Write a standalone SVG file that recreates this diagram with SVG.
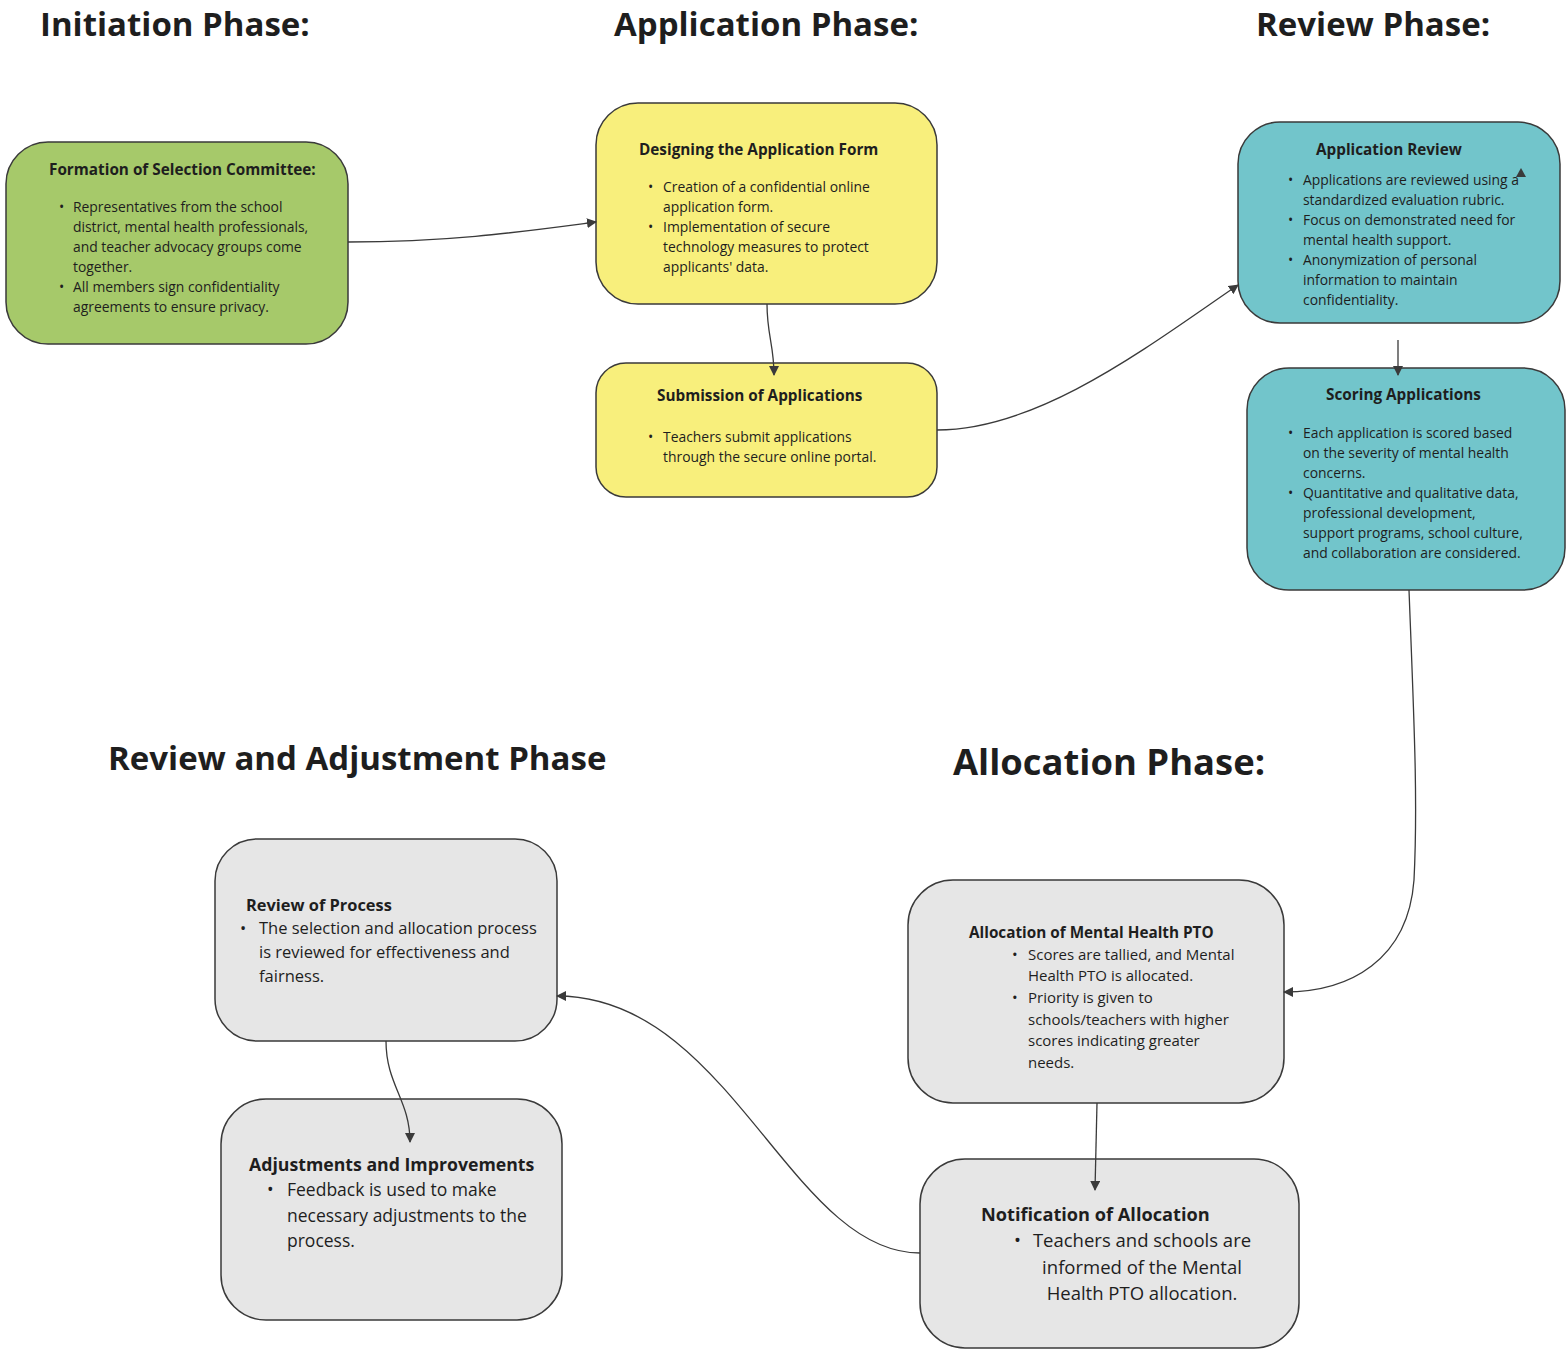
<svg xmlns="http://www.w3.org/2000/svg" width="1566" height="1350" viewBox="0 0 1566 1350">
<style>
text{font-family:"Open Sans","Noto Sans","Liberation Sans",sans-serif;fill:#1e1e1e}
.h{font-weight:700;font-size:33px}
.box{stroke:#3a3a3a;stroke-width:1.5}
.g{fill:#a6c96a}.y{fill:#f8ef7c}.t{fill:#72c5cb}.gr{fill:#e6e6e6}
.tt{font-weight:700;font-size:15.3px}
.b{font-size:13.9px}
.tt2{font-weight:700;font-size:16.4px}
.b2{font-size:16.5px}
.b3{font-size:18.5px}
.tt3{font-weight:700;font-size:17.7px}
.c{fill:none;stroke:#3a3a3a;stroke-width:1.3}
</style>
<defs>
<marker id="ar" viewBox="0 0 10 10" refX="9" refY="5" markerWidth="10" markerHeight="10" orient="auto" markerUnits="userSpaceOnUse">
<path d="M0,0 L10,5 L0,10 z" fill="#3a3a3a"/>
</marker>
</defs>
<rect width="1566" height="1350" fill="#ffffff"/>
<g id="headings">
<text class="h" x="40" y="36">Initiation Phase:</text>
<text class="h" x="614" y="36">Application Phase:</text>
<text class="h" x="1256" y="36">Review Phase:</text>
<text class="h" x="108" y="770">Review and Adjustment Phase</text>
<text class="h" x="953" y="775" style="font-size:36.4px">Allocation Phase:</text>
</g>
<g id="formation">
<rect class="box g" x="6" y="142" width="342" height="202" rx="42"/>
<text class="tt" x="49" y="175">Formation of Selection Committee:</text>
<g class="b">
<text x="59" y="212">•</text><text x="73" y="212">Representatives from the school</text>
<text x="73" y="232">district, mental health professionals,</text>
<text x="73" y="252">and teacher advocacy groups come</text>
<text x="73" y="272">together.</text>
<text x="59" y="292">•</text><text x="73" y="292">All members sign confidentiality</text>
<text x="73" y="312">agreements to ensure privacy.</text>
</g>
</g>
<g id="designing">
<rect class="box y" x="596" y="103" width="341" height="201" rx="42"/>
<text class="tt" x="639" y="155">Designing the Application Form</text>
<g class="b">
<text x="648" y="192">•</text><text x="663" y="192">Creation of a confidential online</text>
<text x="663" y="212">application form.</text>
<text x="648" y="232">•</text><text x="663" y="232">Implementation of secure</text>
<text x="663" y="252">technology measures to protect</text>
<text x="663" y="272">applicants' data.</text>
</g>
</g>
<g id="submission">
<rect class="box y" x="596" y="363" width="341" height="134" rx="30"/>
<text class="tt" x="657" y="401">Submission of Applications</text>
<g class="b">
<text x="648" y="442">•</text><text x="663" y="442">Teachers submit applications</text>
<text x="663" y="462">through the secure online portal.</text>
</g>
</g>
<g id="appreview">
<rect class="box t" x="1238" y="122" width="322" height="201" rx="42"/>
<text class="tt" x="1316" y="155">Application Review</text>
<g class="b">
<text x="1288" y="185">•</text><text x="1303" y="185">Applications are reviewed using a</text>
<text x="1303" y="205">standardized evaluation rubric.</text>
<text x="1288" y="225">•</text><text x="1303" y="225">Focus on demonstrated need for</text>
<text x="1303" y="245">mental health support.</text>
<text x="1288" y="265">•</text><text x="1303" y="265">Anonymization of personal</text>
<text x="1303" y="285">information to maintain</text>
<text x="1303" y="305">confidentiality.</text>
</g>
</g>
<g id="scoring">
<rect class="box t" x="1247" y="368" width="318" height="222" rx="42"/>
<text class="tt" x="1326" y="400">Scoring Applications</text>
<g class="b">
<text x="1288" y="438">•</text><text x="1303" y="438">Each application is scored based</text>
<text x="1303" y="458">on the severity of mental health</text>
<text x="1303" y="478">concerns.</text>
<text x="1288" y="498">•</text><text x="1303" y="498">Quantitative and qualitative data,</text>
<text x="1303" y="518">professional development,</text>
<text x="1303" y="538">support programs, school culture,</text>
<text x="1303" y="558">and collaboration are considered.</text>
</g>
</g>
<g id="allocation">
<rect class="box gr" x="908" y="880" width="376" height="223" rx="45"/>
<text class="tt" x="969" y="938">Allocation of Mental Health PTO</text>
<g style="font-size:15px">
<text x="1012" y="960">•</text><text x="1028" y="960">Scores are tallied, and Mental</text>
<text x="1028" y="981">Health PTO is allocated.</text>
<text x="1012" y="1003">•</text><text x="1028" y="1003">Priority is given to</text>
<text x="1028" y="1025">schools/teachers with higher</text>
<text x="1028" y="1046">scores indicating greater</text>
<text x="1028" y="1068">needs.</text>
</g>
</g>
<g id="notification">
<rect class="box gr" x="920" y="1159" width="379" height="189" rx="45"/>
<text class="tt2" x="981" y="1221" style="font-size:18.2px">Notification of Allocation</text>
<g class="b3">
<text x="1014" y="1247">•</text>
<text x="1142" y="1247" text-anchor="middle">Teachers and schools are</text>
<text x="1142" y="1274" text-anchor="middle">informed of the Mental</text>
<text x="1142" y="1300" text-anchor="middle">Health PTO allocation.</text>
</g>
</g>
<g id="reviewprocess">
<rect class="box gr" x="215" y="839" width="342" height="202" rx="42"/>
<text class="tt2" x="246" y="911">Review of Process</text>
<g class="b2">
<text x="240" y="934">•</text><text x="259" y="934">The selection and allocation process</text>
<text x="259" y="958">is reviewed for effectiveness and</text>
<text x="259" y="982">fairness.</text>
</g>
</g>
<g id="adjustments">
<rect class="box gr" x="221" y="1099" width="341" height="221" rx="45"/>
<text class="tt3" x="249" y="1171">Adjustments and Improvements</text>
<g class="b3" style="font-size:17.5px">
<text x="267" y="1196">•</text><text x="287" y="1196">Feedback is used to make</text>
<text x="287" y="1222">necessary adjustments to the</text>
<text x="287" y="1247">process.</text>
</g>
</g>
<g id="connectors">
<path class="c" d="M348,242 C450,242 520,232 596,222" marker-end="url(#ar)"/>
<path class="c" d="M767,304 C767,335 774,345 774,375" marker-end="url(#ar)"/>
<path class="c" d="M937,430 C1040,430 1150,345 1238,285" marker-end="url(#ar)"/>
<path class="c" d="M1398,340 L1398,375" marker-end="url(#ar)"/>
<path class="c" d="M1409,590 C1414,720 1418,800 1414,880 C1408,960 1350,992 1284,992" marker-end="url(#ar)"/>
<path class="c" d="M1097,1103 L1095,1190" marker-end="url(#ar)"/>
<path class="c" d="M920,1253 C790,1253 730,996 557,996" marker-end="url(#ar)"/>
<path class="c" d="M386,1041 C386,1085 410,1100 410,1142" marker-end="url(#ar)"/>
<path d="M1516,177 L1521,168 L1526,177 z" fill="#3a3a3a"/>
</g>
</svg>
